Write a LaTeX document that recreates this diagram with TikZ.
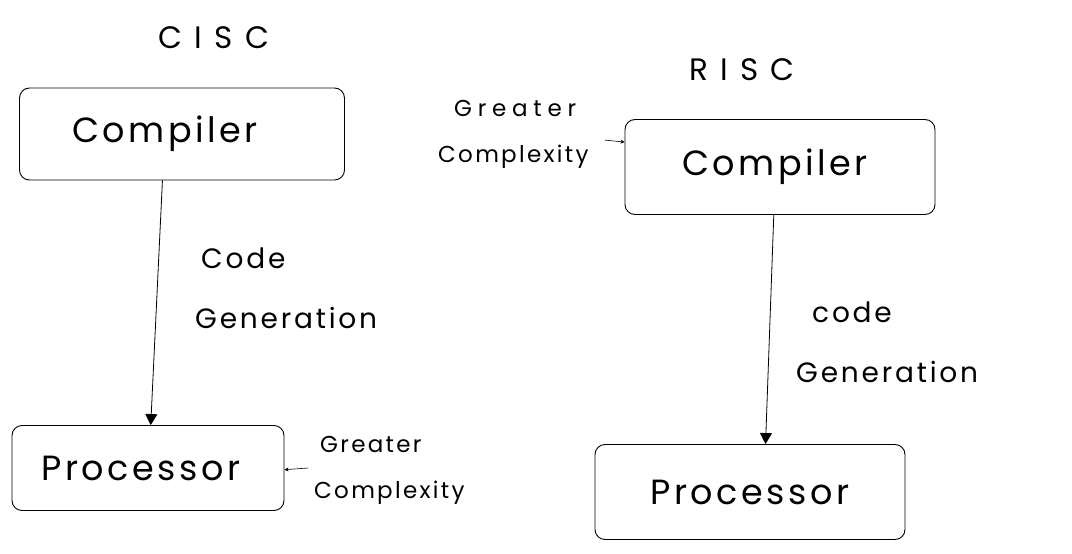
\documentclass[tikz,border=0pt]{standalone}
\usepackage{fontspec}
\setmainfont{Poppins}[LetterSpace=10]
\usetikzlibrary{arrows.meta,calc}
\newcommand\spreadout{\addfontfeatures{LetterSpace=25}}
\tikzset{
  unit/.style={draw=black, line width=0.9pt, rounded corners=10pt, inner sep=0pt},
  title/.style={font=\fontsize{31}{33}\selectfont\addfontfeatures{LetterSpace=40}},
  boxtext/.style={font=\fontsize{35}{37}\selectfont},
  lbl/.style={font=\fontsize{28}{60}\selectfont, align=left, inner sep=0pt},
  small/.style={font=\fontsize{23}{46}\selectfont, align=left, inner sep=0pt},
  flow/.style={draw=black, line width=0.8pt, -{Triangle[length=11pt,width=12pt]}},
  hint/.style={draw=black, line width=0.6pt, -{Stealth[length=4pt,width=4pt]}}
}
\begin{document}
\begin{tikzpicture}[x=1pt,y=-1pt]
  \useasboundingbox (0,0) rectangle (1072,554);

  % CISC side
  \node[title] (cisc) at (214,38) {CISC};
  \node[unit, boxtext, minimum width=325pt, minimum height=92pt] (lc) at (182,134) {\hspace*{-34pt}Compiler};
  \node[unit, boxtext, minimum width=272pt, minimum height=85pt] (lp) at (148,468) {\hspace*{-14pt}Processor};
  \node[lbl, anchor=north west] (lg) at (195,248) {\hspace*{6pt}Code\\Generation};
  \node[small, anchor=north west] (lx) at (314,436) {\hspace*{6pt}Greater\\Complexity};
  \draw[flow] ($(lc.south west)!0.44!(lc.south east)$) -- ($(lp.north west)!0.51!(lp.north east)$);
  \draw[hint] ($(lx.north west)+(-6,32)$) -- ($(lp.north east)!0.52!(lp.south east)$);

  % RISC side
  \node[title] (risc) at (742,70) {RISC};
  \node[unit, boxtext, minimum width=310pt, minimum height=95pt] (rc) at (780,167) {\hspace*{-10pt}Compiler};
  \node[unit, boxtext, minimum width=310pt, minimum height=95pt] (rp) at (750,492) {Processor};
  \node[lbl, anchor=north west] (rg) at (796,302) {\hspace*{16pt}code\\Generation};
  \node[small, anchor=north west] (rx) at (438,100) {\hspace*{16pt}{\spreadout Greater}\\Complexity};
  \coordinate (rin) at ($(rc.north west)!0.24!(rc.south west)$);
  \draw[hint] ($(rin)+(-20,-2)$) -- (rin);
  \draw[flow] ($(rc.south west)!0.48!(rc.south east)$) -- ($(rp.north west)!0.55!(rp.north east)$);
\end{tikzpicture}
\end{document}
